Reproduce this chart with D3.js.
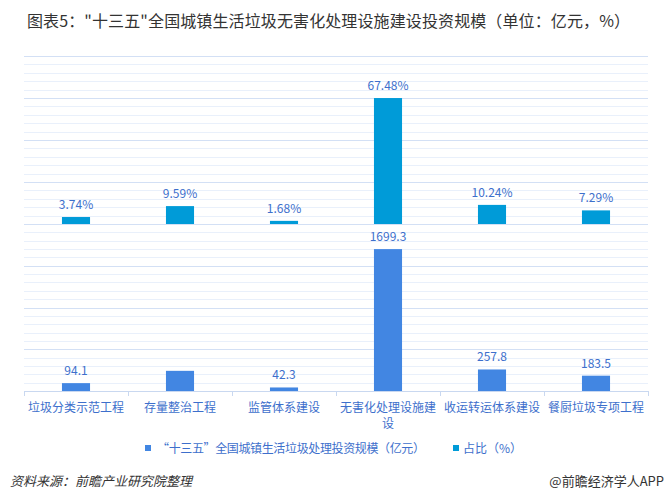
<!DOCTYPE html>
<html><head><meta charset="utf-8">
<script src="https://cdn.jsdelivr.net/npm/d3@7"></script>
<style>
body{margin:0;background:#fff;}
svg{display:block;font-family:"Noto Sans CJK SC","Noto Sans",sans-serif;}
</style></head>
<body><svg id="c" width="665" height="500"></svg>
<script>
const categories = ["垃圾分类示范工程","存量整治工程","监管体系建设","无害化处理设施建设","收运转运体系建设","餐厨垃圾专项工程"];
const investment = [94.1, 241.5, 42.3, 1699.3, 257.8, 183.5];
const investLabels = ["94.1", "", "42.3", "1699.3", "257.8", "183.5"];
const share = [3.74, 9.59, 1.68, 67.48, 10.24, 7.29];
const shareLabels = ["3.74%", "9.59%", "1.68%", "67.48%", "10.24%", "7.29%"];
const titleText = "图表5：\"十三五\"全国城镇生活垃圾无害化处理设施建设投资规模（单位：亿元，%）";
const legendNames = ["“十三五”全国城镇生活垃圾处理投资规模（亿元）", "占比（%）"];
const sourceText = "资料来源：前瞻产业研究院整理";
const brandText = "@前瞻经济学人APP";

const svg = d3.select("#c");
const left = 24, right = 648;
const topY0 = 56, topY1 = 224, botY0 = 224, botY1 = 391;
const colShare = "#009bd8", colInv = "#4286e2", labelCol = "#3d6fcc";

const x = d3.scaleBand().domain(categories).range([left, right]).paddingInner(0.73).paddingOuter(0.365);
const xb = d3.scaleBand().domain(categories).range([left, right]);
const yTop = d3.scaleLinear().domain([0, 90]).range([topY1, topY0]);
const yBot = d3.scaleLinear().domain([0, 2000]).range([botY1, botY0]);

function grid(scale, step, majorStep, max) {
  const ticks = d3.range(0, max + 1e-6, step);
  svg.append("g").selectAll("line").data(ticks).join("line")
    .attr("x1", left).attr("x2", right)
    .attr("y1", d => Math.round(scale(d)) + 0.5).attr("y2", d => Math.round(scale(d)) + 0.5)
    .attr("stroke", d => (Math.abs(d / majorStep - Math.round(d / majorStep)) < 1e-6) ? "#d3e0f5" : "#e9f0fb")
    .attr("stroke-width", 1);
}
grid(yBot, 100, 500, 2000);
grid(yTop, 4.5, 22.5, 90);

// bottom axis
const ax = svg.append("g").attr("transform", `translate(0,${botY1})`)
  .call(d3.axisBottom(xb).tickSize(0).tickFormat(""));
ax.select(".domain").attr("stroke", "#c9d8f0");
svg.append("g").selectAll("line").data(d3.range(categories.length + 1)).join("line")
  .attr("x1", i => left + i * xb.step() + 0.5).attr("x2", i => left + i * xb.step() + 0.5)
  .attr("y1", botY1).attr("y2", botY1 + 5).attr("stroke", "#c9d8f0");

// bars
svg.append("g").selectAll("rect").data(categories).join("rect")
  .attr("x", d => x(d)).attr("width", x.bandwidth())
  .attr("y", (d, i) => yTop(share[i])).attr("height", (d, i) => topY1 - yTop(share[i]))
  .attr("fill", colShare);
svg.append("g").selectAll("rect").data(categories).join("rect")
  .attr("x", d => x(d)).attr("width", x.bandwidth())
  .attr("y", (d, i) => yBot(investment[i])).attr("height", (d, i) => botY1 - yBot(investment[i]))
  .attr("fill", colInv);

// labels
svg.append("g").selectAll("text").data(categories).join("text")
  .attr("x", d => x(d) + x.bandwidth() / 2).attr("y", (d, i) => yTop(share[i]) - 8)
  .attr("text-anchor", "middle").attr("font-size", 12).attr("fill", labelCol)
  .text((d, i) => shareLabels[i]);
svg.append("g").selectAll("text").data(categories).join("text")
  .attr("x", d => x(d) + x.bandwidth() / 2).attr("y", (d, i) => yBot(investment[i]) - 8)
  .attr("text-anchor", "middle").attr("font-size", 12).attr("fill", labelCol)
  .text((d, i) => investLabels[i]);

// category labels with wrap
const cl = svg.append("g").selectAll("text").data(categories).join("text")
  .attr("text-anchor", "middle").attr("font-size", 12).attr("fill", labelCol);
cl.each(function(d) {
  const t = d3.select(this);
  const cx = xb(d) + xb.bandwidth() / 2;
  const maxW = xb.bandwidth() - 2;
  const chars = Array.from(d);
  let lines = [], cur = "";
  chars.forEach(ch => {
    const test = cur + ch;
    t.text(test);
    if (this.getComputedTextLength() > maxW && cur) { lines.push(cur); cur = ch; } else cur = test;
  });
  lines.push(cur);
  t.text(null);
  lines.forEach((ln, k) => t.append("tspan").attr("x", cx).attr("y", 412 + k * 16).text(ln));
});

// title
svg.append("text").attr("x", 27).attr("y", 26.5).attr("font-size", 16).attr("fill", "#333")
  .attr("textLength", 603).attr("lengthAdjust", "spacing")
  .text(titleText);

// legend
const lg = svg.append("g");
lg.append("rect").attr("x", 145).attr("y", 445).attr("width", 6).attr("height", 6).attr("fill", colInv);
lg.append("text").attr("x", 157).attr("y", 452.5).attr("font-size", 12).attr("fill", labelCol)
  .attr("textLength", 268).attr("lengthAdjust", "spacing").text(legendNames[0]);
lg.append("rect").attr("x", 453).attr("y", 445).attr("width", 6).attr("height", 6).attr("fill", colShare);
lg.append("text").attr("x", 463).attr("y", 452.5).attr("font-size", 12).attr("fill", labelCol).text(legendNames[1]);

// footer
svg.append("text").attr("x", 10).attr("y", 485.5).attr("font-size", 13).attr("font-style", "italic")
  .attr("fill", "#333").text(sourceText);
svg.append("text").attr("x", 664).attr("y", 485.5).attr("text-anchor", "end").attr("font-size", 13)
  .attr("fill", "#333").text(brandText);
</script></body></html>
